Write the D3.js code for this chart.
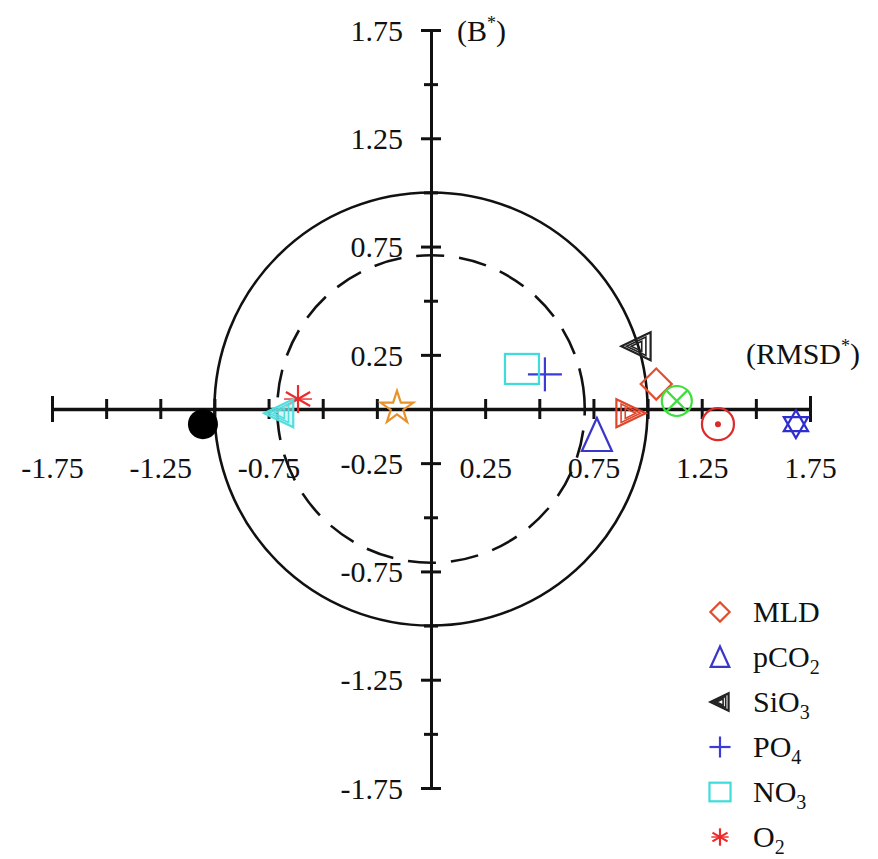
<!DOCTYPE html>
<html>
<head>
<meta charset="utf-8">
<script src="https://cdn.jsdelivr.net/npm/d3@7"></script>
<style>
  html, body { margin: 0; padding: 0; background: #fff; }
  svg { display: block; }
</style>
</head>
<body>
<svg id="chart" width="878" height="859"></svg>
<script>
// ---------------- DATA ----------------
const axisTicks = [-1.75, -1.5, -1.25, -1, -0.75, -0.5, -0.25, 0.25, 0.5, 0.75, 1, 1.25, 1.5, 1.75];
const xTickLabels = [-1.75, -1.25, -0.75, 0.25, 0.75, 1.25, 1.75];          // -0.25 shared with the y axis label
const yTickLabels = [-1.75, -1.25, -0.75, -0.25, 0.25, 0.75, 1.25, 1.75];
const circleRadii = [1.0, 0.71];           // solid, dashed reference circles
const markerIds = ["MLD", "pCO2", "SiO3", "PO4", "NO3", "O2", "filledCircle", "cyanTri", "orangeStar", "redTri", "greenCircle", "redCircleDot", "blueStar"];
const rmsdValues = [1.04, 0.766, 0.95, 0.526, 0.42, -0.614, -1.053, -0.70, -0.157, 0.92, 1.135, 1.325, 1.685];
const biasValues = [0.115, -0.12, 0.29, 0.16, 0.185, 0.046, -0.07, -0.02, 0.005, -0.02, 0.037, -0.07, -0.07];
const legendIds = ["MLD", "pCO2", "SiO3", "PO4", "NO3", "O2"];
const legendMain = ["MLD", "pCO", "SiO", "PO", "NO", "O"];
const legendSub = ["", "2", "3", "4", "3", "2"];

// ---------------- STYLES ----------------
const FONT = "'Liberation Serif', 'Times New Roman', serif";
const colors = {
  MLD: "#e0502e", pCO2: "#3a36c8", SiO3: "#222", PO4: "#3b3bd6", NO3: "#3fdcdc", O2: "#ec2a2a",
  filledCircle: "#000", cyanTri: "#52dede", orangeStar: "#e8922a", redTri: "#e0452a",
  greenCircle: "#3ede3e", redCircleDot: "#dd2a2a", blueStar: "#2e2ed0"
};

const svg = d3.select("#chart");
const x = d3.scaleLinear().domain([-1.75, 1.75]).range([52, 810]);
const y = d3.scaleLinear().domain([-1.75, 1.75]).range([788, 30]);
const fmt = d => d.toFixed(2);
const unit = x(1) - x(0);

// ---------------- CIRCLES ----------------
svg.append("circle").attr("cx", x(0)).attr("cy", y(0)).attr("r", circleRadii[0] * unit)
  .attr("fill", "none").attr("stroke", "#111").attr("stroke-width", 2.6);
svg.append("circle").attr("cx", x(0)).attr("cy", y(0)).attr("r", circleRadii[1] * unit)
  .attr("fill", "none").attr("stroke", "#111").attr("stroke-width", 2.6)
  .attr("stroke-dasharray", "28,15").attr("transform", `rotate(-8 ${x(0)} ${y(0)})`);

// ---------------- AXES ----------------
const xAxis = d3.axisBottom(x).tickValues(axisTicks).tickSizeInner(0).tickSizeOuter(0)
  .tickFormat(d => xTickLabels.includes(d) ? fmt(d) : "");
const gx = svg.append("g").attr("transform", `translate(0,${y(0)})`).call(xAxis);
gx.select(".domain").attr("stroke", "#111").attr("stroke-width", 3.5);
gx.selectAll(".tick line").attr("stroke", "#111").attr("stroke-width", 3)
  .attr("y1", d => Math.abs(d) === 1.75 ? -13 : -10).attr("y2", d => Math.abs(d) === 1.75 ? 13 : 10);
gx.selectAll(".tick text").attr("y", 69).attr("dy", 0)
  .style("font-family", FONT).style("font-size", "30px").attr("fill", "#111");

const yAxis = d3.axisLeft(y).tickValues(axisTicks).tickSizeInner(0).tickSizeOuter(0)
  .tickFormat(d => yTickLabels.includes(d) ? fmt(d) : "");
const gy = svg.append("g").attr("transform", `translate(${x(0)},0)`).call(yAxis);
gy.select(".domain").attr("stroke", "#111").attr("stroke-width", 3);
gy.selectAll(".tick line").attr("stroke", "#111").attr("stroke-width", 3)
  .attr("x1", d => yTickLabels.includes(d) ? -10 : -7).attr("x2", d => yTickLabels.includes(d) ? 10 : 7);
gy.selectAll(".tick text").attr("x", -28).attr("dy", "0.34em")
  .style("font-family", FONT).style("font-size", "30px").attr("fill", "#111");

// Axis titles
function titleWithStar(tx, ty, main) {
  const t = svg.append("text").attr("x", tx).attr("y", ty)
    .style("font-family", FONT).style("font-size", "30px").attr("fill", "#111");
  t.append("tspan").text("(" + main);
  t.append("tspan").text("*").style("font-size", "18px").attr("dy", -12);
  t.append("tspan").text(")").attr("dy", 12);
}
titleWithStar(457, 41, "B");
titleWithStar(746, 364, "RMSD");

// ---------------- MARKERS ----------------
function triPath(s, dir) {
  const h = s * 1.1;
  if (dir === "up") return `M0,${-h}L${s},${h * 0.9}L${-s},${h * 0.9}Z`;
  if (dir === "left") return `M${-h},0L${h * 0.9},${-s}L${h * 0.9},${s}Z`;
  return `M${h},0L${-h * 0.9},${-s}L${-h * 0.9},${s}Z`;
}

function drawMarker(g, id, scale) {
  const c = colors[id];
  const k = scale;
  const sw = 2.2;
  switch (id) {
    case "MLD":
      g.append("rect").attr("x", -11 * k).attr("y", -11 * k).attr("width", 22 * k).attr("height", 22 * k)
        .attr("transform", "rotate(45)").attr("fill", "none").attr("stroke", c).attr("stroke-width", sw);
      break;
    case "pCO2":
      g.append("path").attr("d", `M0,${-17 * k}L${15 * k},${16 * k}L${-15 * k},${16 * k}Z`)
        .attr("fill", "none").attr("stroke", c).attr("stroke-width", sw);
      break;
    case "SiO3":
    case "redTri":
    case "cyanTri": {
      const dir = id === "redTri" ? "right" : "left";
      [1, 0.66, 0.36].forEach(f => {
        g.append("path").attr("d", triPath(14 * k * f, dir))
          .attr("fill", id === "cyanTri" && f === 1 ? "#b8f2f2" : "none")
          .attr("fill-opacity", 0.6)
          .attr("stroke", c).attr("stroke-width", f === 1 ? sw : 1.6);
      });
      break;
    }
    case "PO4":
      g.append("line").attr("x1", -17 * k).attr("x2", 17 * k).attr("stroke", c).attr("stroke-width", sw);
      g.append("line").attr("y1", -17 * k).attr("y2", 17 * k).attr("stroke", c).attr("stroke-width", sw);
      break;
    case "NO3":
      g.append("rect").attr("x", -17 * k).attr("y", -15 * k).attr("width", 34 * k).attr("height", 30 * k)
        .attr("fill", "none").attr("stroke", c).attr("stroke-width", sw);
      break;
    case "O2":
      [90, 30, -30, 0].forEach((a, i) => {
        const r = 14 * k, rad = a * Math.PI / 180;
        g.append("line").attr("x1", -r * Math.cos(rad)).attr("y1", -r * Math.sin(rad))
          .attr("x2", r * Math.cos(rad)).attr("y2", r * Math.sin(rad))
          .attr("stroke", c).attr("stroke-width", i === 3 ? 1.4 : sw);
      });
      break;
    case "filledCircle":
      g.append("circle").attr("r", 15 * k).attr("fill", c);
      break;
    case "orangeStar":
      g.append("path").attr("d", d3.symbol(d3.symbolStar, 330 * k * k)())
        .attr("fill", "none").attr("stroke", c).attr("stroke-width", sw);
      break;
    case "greenCircle":
      g.append("circle").attr("r", 15 * k).attr("fill", "none").attr("stroke", c).attr("stroke-width", sw);
      g.append("line").attr("x1", -10.6 * k).attr("y1", -10.6 * k).attr("x2", 10.6 * k).attr("y2", 10.6 * k)
        .attr("stroke", c).attr("stroke-width", sw);
      g.append("line").attr("x1", 10.6 * k).attr("y1", -10.6 * k).attr("x2", -10.6 * k).attr("y2", 10.6 * k)
        .attr("stroke", c).attr("stroke-width", sw);
      break;
    case "redCircleDot":
      g.append("circle").attr("r", 16 * k).attr("fill", "none").attr("stroke", c).attr("stroke-width", sw);
      g.append("circle").attr("r", 3 * k).attr("fill", c);
      break;
    case "blueStar": {
      const r = 14 * k;
      const tri = (rot) => d3.range(3).map(i => {
        const a = (rot + i * 120) * Math.PI / 180;
        return [r * Math.sin(a), -r * Math.cos(a)];
      });
      [0, 180].forEach(rot => {
        g.append("path").attr("d", "M" + tri(rot).map(p => p.join(",")).join("L") + "Z")
          .attr("fill", "none").attr("stroke", c).attr("stroke-width", sw);
      });
      break;
    }
  }
}

const markerLayer = svg.append("g");
markerIds.forEach((id, i) => {
  const g = markerLayer.append("g").attr("transform", `translate(${x(rmsdValues[i])},${y(biasValues[i])})`);
  drawMarker(g, id, 1);
});

// ---------------- LEGEND ----------------
const legendY = d3.scalePoint().domain(legendIds).range([612, 837]);
const legend = svg.append("g");
legendIds.forEach((id, i) => {
  const row = legend.append("g").attr("transform", `translate(0,${legendY(id)})`);
  const m = row.append("g").attr("transform", "translate(720,0)");
  drawMarker(m, id, 0.62);
  const t = row.append("text").attr("x", 753).attr("y", 10)
    .style("font-family", FONT).style("font-size", "30px").attr("fill", "#111");
  t.append("tspan").text(legendMain[i]);
  if (legendSub[i]) t.append("tspan").text(legendSub[i]).style("font-size", "20px").attr("dy", 7);
});
</script>
</body>
</html>
